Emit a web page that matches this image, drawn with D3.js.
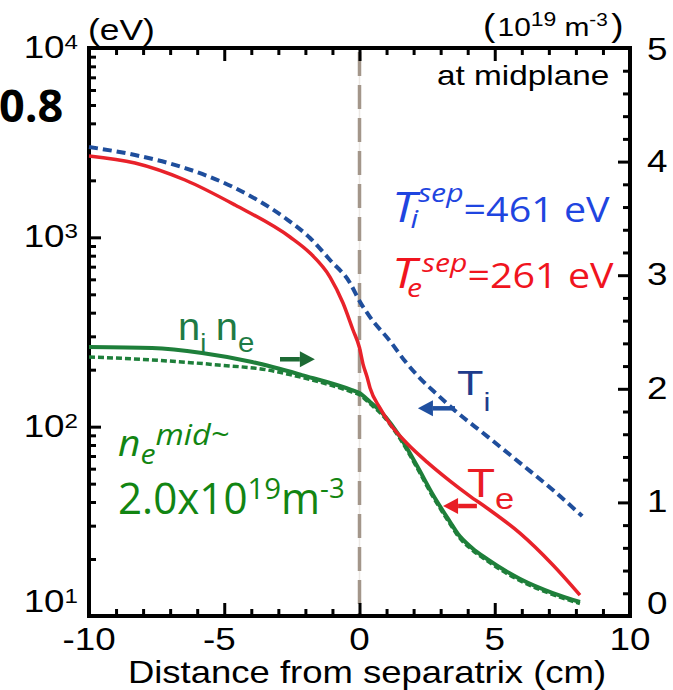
<!DOCTYPE html>
<html>
<head>
<meta charset="utf-8">
<script src="https://cdn.jsdelivr.net/npm/d3@7"></script>
<style>
  body { margin: 0; background: #fff; }
</style>
</head>
<body>
<div id="chart"></div>
<script>
// Midplane profiles vs distance from separatrix (cm)
const teX = [-10, -8.3, -6.45, -4.6, -2.57, -1.83, -1.09, -0.61, -0.24, 0, 0.13, 0.28, 0.39, 0.76, 1.13, 1.76, 2.5, 3.35, 4.08, 4.71, 5.93, 7.15, 8.15];
const teVal = [2690, 2470, 2008, 1481, 1004, 826, 617, 450, 324, 261, 214, 183, 160, 125.4, 103.2, 81.5, 65.0, 51.6, 43.0, 37.2, 27.4, 18.6, 12.9]; // eV

const tiX = [-10, -8.3, -6.45, -4.6, -2.75, -1.83, -1.09, -0.35, 0, 0.39, 1.13, 1.68, 2.24, 2.87, 3.46, 4.71, 5.94, 7.15, 8.23];
const tiVal = [3000, 2721, 2323, 1821, 1265, 992, 759, 574, 461, 379, 283, 222, 180, 148, 124, 89.2, 64.2, 46.3, 33.7]; // eV

const neX = [-10, -7.67, -5.82, -3.97, -2.13, -0.28, 0, 0.39, 0.87, 1.5, 2.13, 2.72, 3.35, 3.64, 4.16, 4.71, 5.94, 7.15, 8.15];
const neVal = [2.368, 2.359, 2.315, 2.236, 2.121, 1.989, 1.963, 1.884, 1.778, 1.576, 1.32, 1.065, 0.827, 0.722, 0.599, 0.502, 0.326, 0.202, 0.123]; // 1e19 m^-3

const niX = [-10, -7.67, -5.23, -3.38, -2.13, -0.28, 0, 0.39, 0.87, 1.5, 2.13, 2.72, 3.35, 3.64, 4.16, 4.71, 5.94, 7.15, 8.15];
const niVal = [2.28, 2.254, 2.21, 2.165, 2.10, 1.972, 1.947, 1.868, 1.762, 1.56, 1.303, 1.048, 0.81, 0.705, 0.583, 0.487, 0.31, 0.188, 0.11];

const xTicks = [-10, -5, 0, 5, 10];
const tTicks = [10, 100, 1000, 10000];
const nTicks = [0, 1, 2, 3, 4, 5];

const width = 673;
const height = 690;
const margin = { top: 48, right: 43, bottom: 74, left: 89 };
const sans = "'Liberation Sans', Arial, sans-serif";
const calib = "'Open Sans', 'Noto Sans', sans-serif";

const svg = d3.select("#chart")
  .append("svg")
  .attr("width", width)
  .attr("height", height)
  .attr("viewBox", [0, 0, width, height]);

// Scales
const x = d3.scaleLinear()
  .domain([-10, 10])
  .range([margin.left, width - margin.right]);

const yT = d3.scaleLog()
  .domain([10, 1e4])
  .range([height - margin.bottom, margin.top]);

const yN = d3.scaleLinear()
  .domain([0, 5])
  .range([height - margin.bottom, margin.top]);

const x0 = margin.left, x1 = width - margin.right;
const y0 = height - margin.bottom, y1 = margin.top;

// text built from runs, each run may be shifted up/down (super/subscript)
function richText(px, py, runs, o = {}) {
  const t = svg.append("text")
    .attr("transform", `translate(${px},${py}) scale(${o.sx || 1},1)`)
    .attr("text-anchor", o.anchor || "start")
    .attr("font-family", o.font || sans)
    .attr("font-size", o.size)
    .attr("font-weight", o.weight || null)
    .attr("fill", o.color || "#000");
  let shift = 0;
  runs.forEach(r => {
    const s = r.shift || 0;
    t.append("tspan")
      .attr("dy", s - shift)
      .attr("dx", r.dx || 0)
      .attr("font-size", r.size || o.size)
      .attr("font-style", r.italic ? "italic" : null)
      .text(r.text);
    shift = s;
  });
  return t;
}

// Separatrix
svg.append("line")
  .attr("x1", x(0)).attr("x2", x(0))
  .attr("y1", y1).attr("y2", y0)
  .attr("stroke", "#ece8e4")
  .attr("stroke-width", 1.5);
svg.append("line")
  .attr("x1", x(0)).attr("x2", x(0))
  .attr("y1", y1 + 4).attr("y2", y0)
  .attr("stroke", "#a3968a")
  .attr("stroke-width", 3.5)
  .attr("stroke-dasharray", "24,9");

// Axes (ticks point inward)
const styleTicks = g => g
  .call(g => g.select(".domain").remove())
  .call(g => g.selectAll(".tick line").attr("stroke", "#000").attr("stroke-width", 3));

const xMinor = d3.range(-9, 10).filter(v => v % 5 !== 0);
const tMinor = d3.range(1, 4).flatMap(e => d3.range(2, 10).map(m => m * 10 ** e));
const nMinor = d3.range(1, 25).map(i => i / 5).filter(v => Math.abs(v - Math.round(v)) > 1e-6);

[[d3.axisBottom, y0], [d3.axisTop, y1]].forEach(([axis, py]) => {
  svg.append("g").attr("transform", `translate(0,${py})`)
    .call(axis(x).tickValues(xTicks.slice(1, -1)).tickSize(-13).tickFormat(""))
    .call(styleTicks);
  svg.append("g").attr("transform", `translate(0,${py})`)
    .call(axis(x).tickValues(xMinor).tickSize(-7).tickFormat(""))
    .call(styleTicks);
});

svg.append("g").attr("transform", `translate(${x0},0)`)
  .call(d3.axisLeft(yT).tickValues(tTicks.slice(1, -1)).tickSize(-12).tickFormat(""))
  .call(styleTicks);
svg.append("g").attr("transform", `translate(${x0},0)`)
  .call(d3.axisLeft(yT).tickValues(tMinor).tickSize(-7).tickFormat(""))
  .call(styleTicks);

svg.append("g").attr("transform", `translate(${x1},0)`)
  .call(d3.axisRight(yN).tickValues(nTicks.slice(1, -1)).tickSize(-12).tickFormat(""))
  .call(styleTicks);
svg.append("g").attr("transform", `translate(${x1},0)`)
  .call(d3.axisRight(yN).tickValues(nMinor).tickSize(-7).tickFormat(""))
  .call(styleTicks);

svg.append("rect")
  .attr("x", x0).attr("y", y1)
  .attr("width", x1 - x0).attr("height", y0 - y1)
  .attr("fill", "none")
  .attr("stroke", "#000")
  .attr("stroke-width", 4);

// Tick labels
xTicks.forEach(v => {
  richText(x(v) - (v === -5 ? 5 : 0), 650, [{ text: String(v) }], { anchor: "middle", size: 32, sx: 1.15 });
});
tTicks.forEach(v => {
  const py = Math.max(45, Math.min(612, yT(v) + 10));
  richText(78, py, [{ text: "10" }, { text: String(Math.log10(v)), size: 21, shift: -9 }],
    { anchor: "end", size: 32, sx: 1.15 });
});
nTicks.forEach(v => {
  const py = Math.max(60, Math.min(614, yN(v) + 10));
  richText(647, py, [{ text: String(v) }], { size: 32, sx: 1.15 });
});

richText(88, 40, [{ text: "(eV)" }], { size: 29, sx: 1.22 });
richText(483, 36, [
  { text: "(", size: 32 },
  { text: "10", size: 26, dx: 2 },
  { text: "19", size: 20, shift: -10 },
  { text: "m", size: 26, shift: 0, dx: 7 },
  { text: "-3", size: 18, shift: -10 },
  { text: ")", size: 32, shift: 0, dx: 3 }
], { size: 26, sx: 1.15 });

richText(367, 683, [{ text: "Distance from separatrix (cm)" }], { anchor: "middle", size: 32, sx: 1.14 });
richText(437, 85, [{ text: "at midplane" }], { size: 28, sx: 1.19 });

// Profiles
const line = (sx, sy) => d3.line()
  .x(d => sx(d[0]))
  .y(d => sy(d[1]))
  .curve(d3.curveMonotoneX);

svg.append("path")
  .attr("d", line(x, yN)(d3.zip(niX, niVal)))
  .attr("fill", "none")
  .attr("stroke", "#1e7f3a")
  .attr("stroke-width", 3.5)
  .attr("stroke-dasharray", "6,3");

svg.append("path")
  .attr("d", line(x, yN)(d3.zip(neX, neVal)))
  .attr("fill", "none")
  .attr("stroke", "#1e7f3a")
  .attr("stroke-width", 4);

svg.append("path")
  .attr("d", line(x, yT)(d3.zip(tiX, tiVal)))
  .attr("fill", "none")
  .attr("stroke", "#1f4e9c")
  .attr("stroke-width", 4)
  .attr("stroke-dasharray", "9,5");

svg.append("path")
  .attr("d", line(x, yT)(d3.zip(teX, teVal)))
  .attr("fill", "none")
  .attr("stroke", "#e8222a")
  .attr("stroke-width", 3.5);

// Arrows pointing at each curve
function arrow(ax, bx, py, color) {
  const dir = Math.sign(bx - ax);
  const head = 15;
  svg.append("line")
    .attr("x1", ax).attr("x2", bx - dir * head)
    .attr("y1", py).attr("y2", py)
    .attr("stroke", color)
    .attr("stroke-width", 4.5);
  svg.append("path")
    .attr("d", `M${bx},${py}L${bx - dir * head},${py - 8}L${bx - dir * head},${py + 8}Z`)
    .attr("fill", color);
}
arrow(x(-2.94), x(-1.65), yN(2.26), "#1d6a34");
arrow(x(3.53), x(2.16), yT(125), "#2050a0");
arrow(x(4.34), x(3.09), yT(38.1), "#e81e25");

// Curve labels
richText(178, 340, [
  { text: "n", size: 38 },
  { text: "i", size: 26, shift: 12 },
  { text: "n", size: 38, shift: 0, dx: 9 },
  { text: "e", size: 28, shift: 12 }
], { color: "#1e7b45", size: 38, sx: 1.05 });

richText(457, 395, [{ text: "T" }, { text: "i", size: 26, shift: 16 }], { color: "#1e3c8c", size: 36, sx: 1.2 });
richText(467, 497, [{ text: "T" }, { text: "e", size: 30, shift: 12 }], { color: "#ea1c24", size: 40, sx: 1.15 });

// Separatrix values
richText(392, 222, [
  { text: "T", size: 42, italic: true },
  { text: "i", size: 26, italic: true, shift: 6, dx: -5 },
  { text: "sep", size: 26, italic: true, shift: -20 },
  { text: "=461 eV", size: 34, shift: 0 }
], { font: calib, color: "#1f45e0", size: 34, sx: 1.16 });

richText(392, 288, [
  { text: "T", size: 42, italic: true },
  { text: "e", size: 26, italic: true, shift: 9, dx: -8 },
  { text: "sep", size: 26, italic: true, shift: -16 },
  { text: "=261 eV", size: 34, shift: 0 }
], { font: calib, color: "#f0141e", size: 34, sx: 1.16 });

richText(118, 456, [
  { text: "n", size: 36, italic: true },
  { text: "e", size: 28, italic: true, shift: 8 },
  { text: "mid~", size: 30, italic: true, shift: -11 }
], { font: calib, color: "#128512", size: 36, sx: 1.08 });

richText(118, 514, [
  { text: "2.0x10", size: 43 },
  { text: "19", size: 30, shift: -15 },
  { text: "m", size: 43, shift: 0 },
  { text: "-3", size: 28, shift: -16 }
], { font: calib, color: "#128512", size: 43, sx: 0.98 });

richText(-1, 122, [{ text: "0.8" }], { font: calib, weight: 700, size: 45 });
</script>
</body>
</html>
